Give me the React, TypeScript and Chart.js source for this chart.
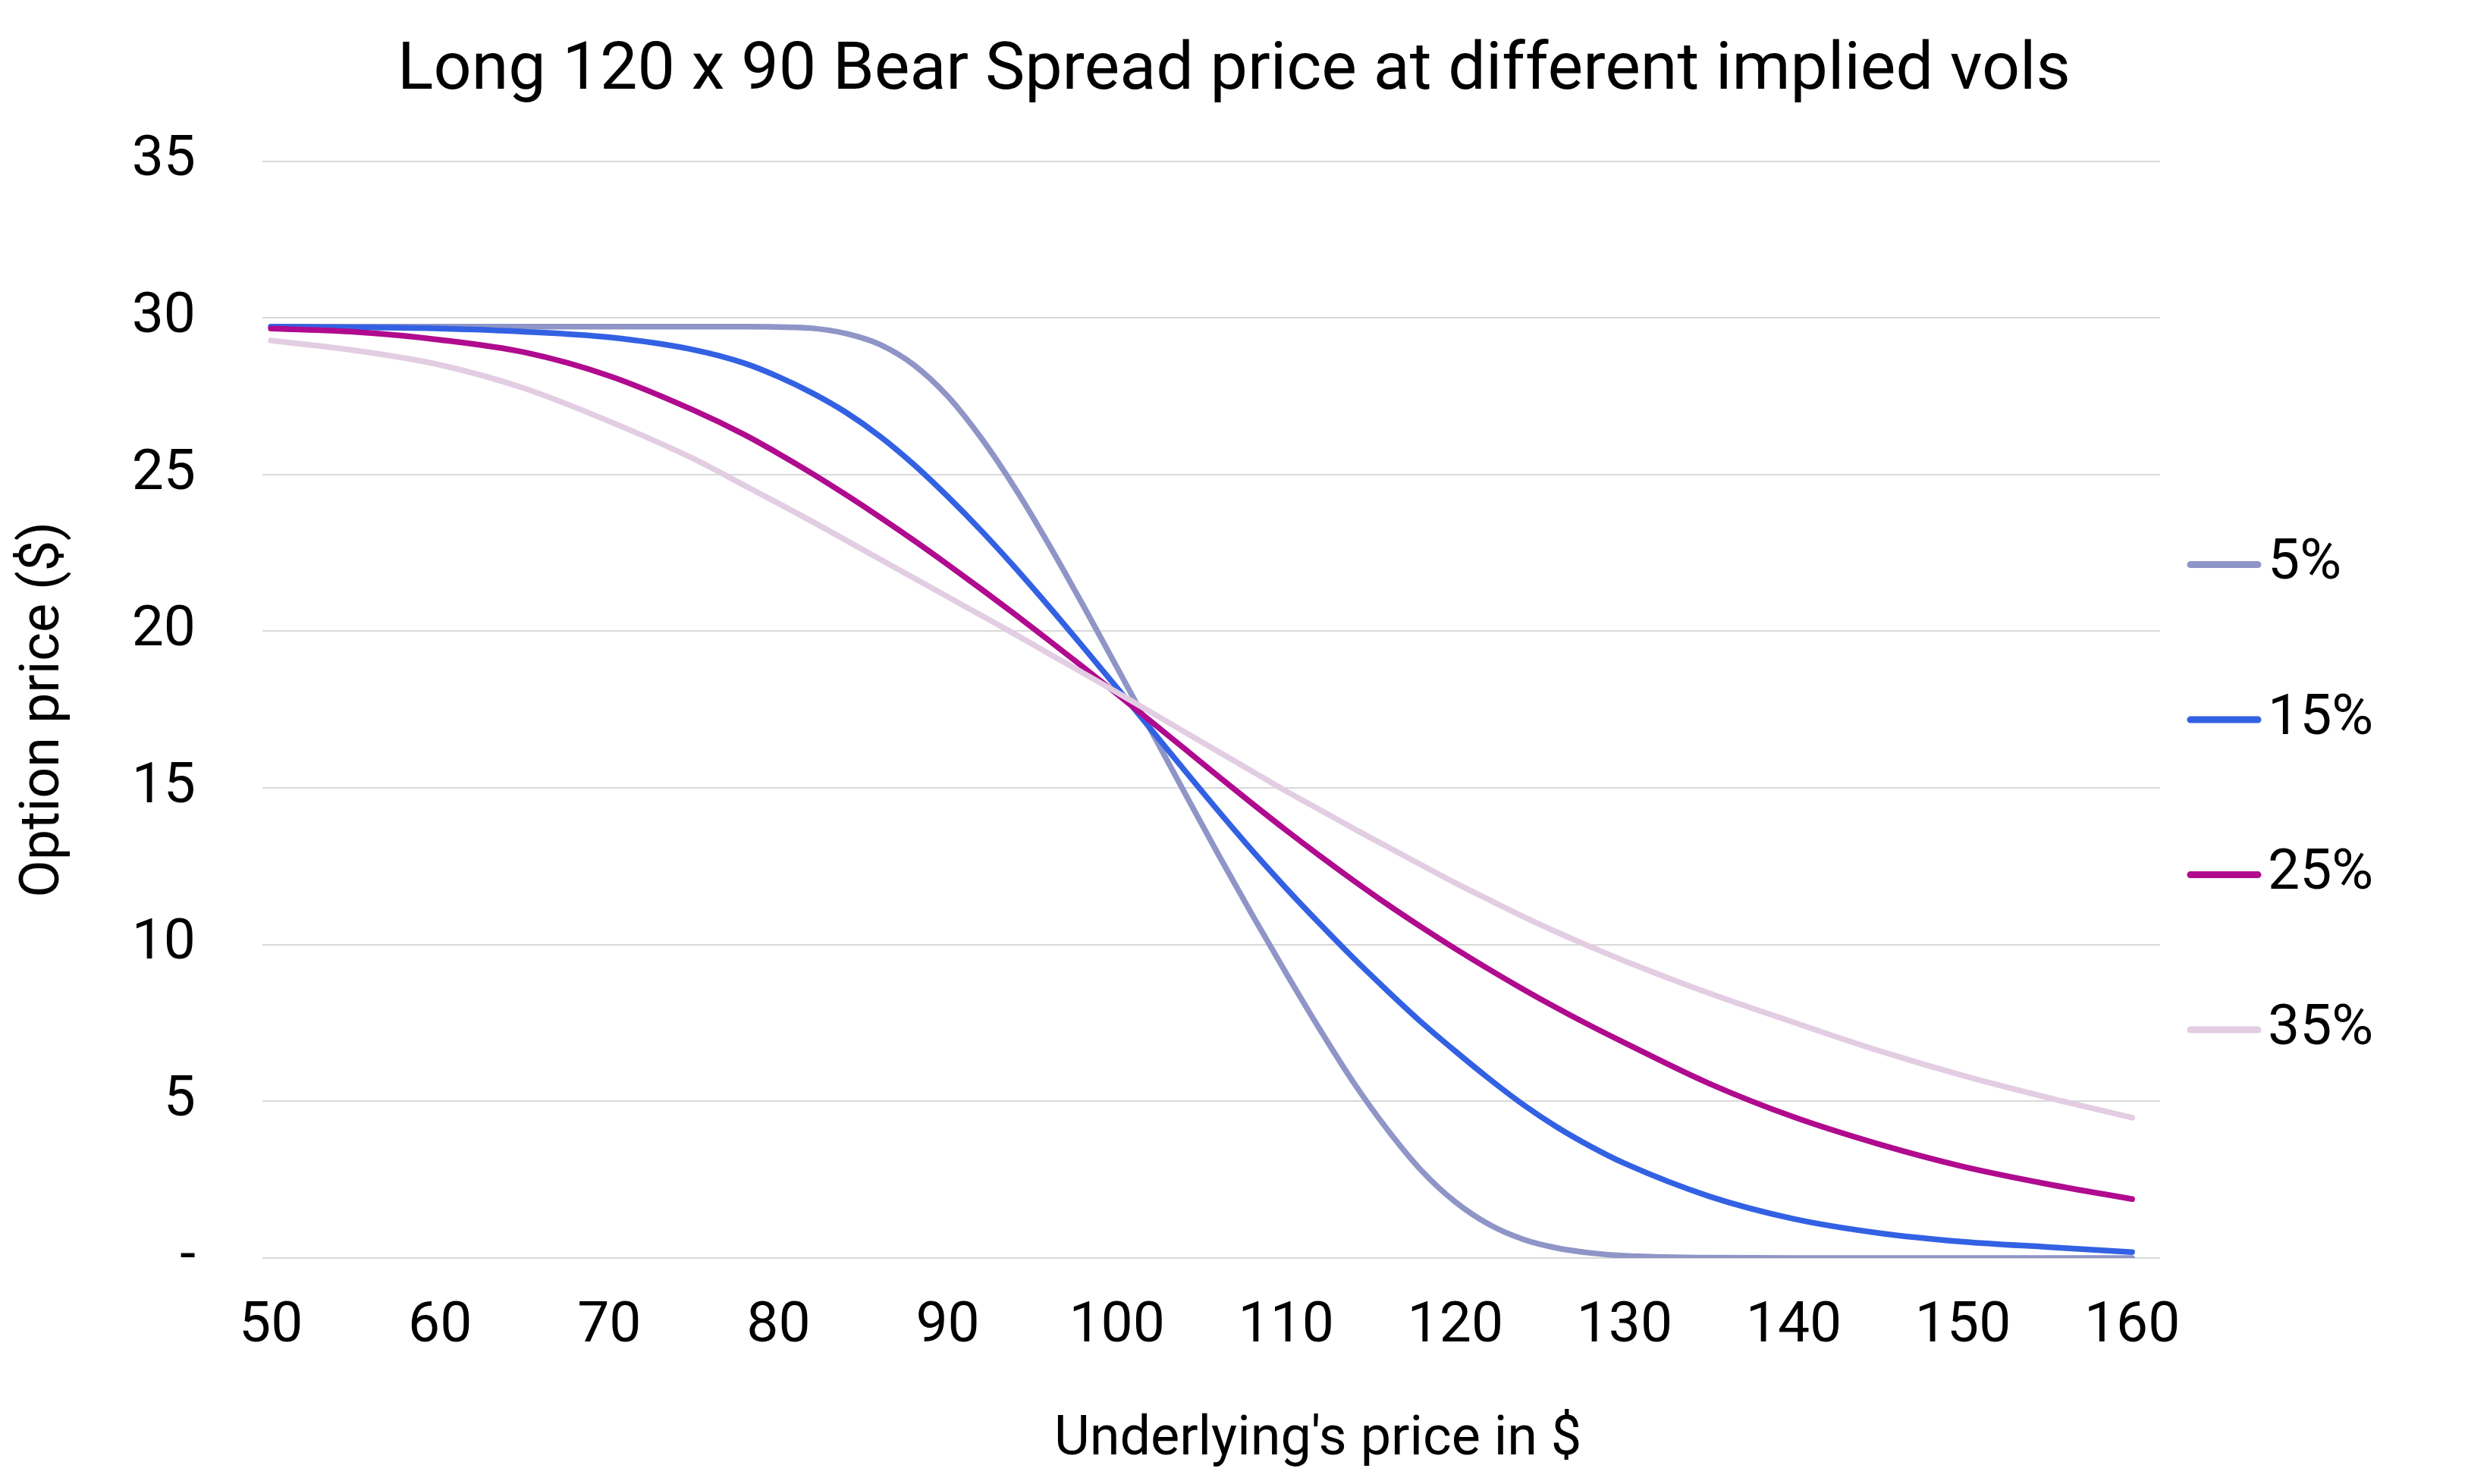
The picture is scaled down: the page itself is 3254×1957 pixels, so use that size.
import React, { useEffect, useRef } from 'react';
import Chart from 'chart.js/auto';

// underlying price points (x) and the spread value for each implied vol
const underlyingPrices = [
  50, 55, 60, 65, 70, 75, 78, 80, 82, 84, 86, 88, 90, 92, 94, 96, 98, 100, 102, 104, 106, 108, 110,
  112, 114, 116, 118, 120, 122, 124, 126, 128, 130, 135, 140, 145, 150, 155, 160,
];

const vol5 = [
  29.72, 29.72, 29.72, 29.72, 29.72, 29.72, 29.72, 29.71, 29.67, 29.5, 29.15, 28.5, 27.5, 26.15, 24.55,
  22.75, 20.83, 18.85, 16.85, 14.85, 12.87, 10.95, 9.09, 7.29, 5.59, 4.09, 2.79, 1.79, 1.07, 0.6, 0.32,
  0.16, 0.07, 0.01, 0, 0, 0, 0, 0,
];

const vol15 = [
  29.72, 29.7, 29.66, 29.56, 29.38, 28.98, 28.55, 28.12, 27.6, 26.98, 26.22, 25.32, 24.3, 23.2, 22.02,
  20.78, 19.5, 18.2, 16.88, 15.56, 14.26, 13.0, 11.8, 10.66, 9.56, 8.52, 7.52, 6.6, 5.72, 4.9, 4.18,
  3.56, 3.02, 1.97, 1.25, 0.8, 0.52, 0.35, 0.19,
];

const vol25 = [
  29.66, 29.55, 29.3, 28.9, 28.15, 27.05, 26.27, 25.67, 25.03, 24.35, 23.64, 22.9, 22.13, 21.34, 20.53,
  19.7, 18.86, 18.0, 17.13, 16.25, 15.37, 14.5, 13.65, 12.83, 12.04, 11.28, 10.56, 9.87, 9.21, 8.58,
  7.98, 7.41, 6.87, 5.57, 4.5, 3.64, 2.92, 2.36, 1.88,
];

const vol35 = [
  29.28, 28.96, 28.5, 27.75, 26.7, 25.5, 24.65, 24.08, 23.5, 22.9, 22.3, 21.7, 21.1, 20.5, 19.9,
  19.28, 18.67, 18.05, 17.42, 16.79, 16.16, 15.53, 14.9, 14.3, 13.7, 13.12, 12.54, 11.97, 11.43,
  10.9, 10.4, 9.93, 9.48, 8.45, 7.52, 6.62, 5.82, 5.12, 4.48,
];

const seriesLabels = ['5%', '15%', '25%', '35%'];
const seriesColors = ['#8f95c6', '#3361e3', '#b00a8f', '#e2cde2'];
const xTickValues = [50, 60, 70, 80, 90, 100, 110, 120, 130, 140, 150, 160];

const chartTitle = 'Long 120 x 90 Bear Spread price at different implied vols';
const xTitle = "Underlying's price in $";
const yTitle = 'Option price ($)';

const FONT = 'Roboto';

// legend on the right + x title centred under plot and legend (like the sheet export)
const sideLegend = {
  id: 'sideLegend',
  afterDraw(chart: any) {
    const { ctx, chartArea } = chart;
    ctx.save();
    ctx.font = `75px ${FONT}`;
    ctx.textBaseline = 'middle';
    ctx.textAlign = 'left';
    const lineStart = chartArea.right + 40;
    const lineEnd = chartArea.right + 129;
    const textX = chartArea.right + 142;
    let rightMost = textX;
    chart.data.datasets.forEach((ds: any, i: number) => {
      const y = chartArea.top + 532 + i * 204.5;
      ctx.strokeStyle = ds.borderColor;
      ctx.lineWidth = 9;
      ctx.lineCap = 'round';
      ctx.beginPath();
      ctx.moveTo(lineStart, y);
      ctx.lineTo(lineEnd, y);
      ctx.stroke();
      ctx.fillStyle = '#000';
      ctx.fillText(ds.label, textX, y);
      rightMost = Math.max(rightMost, textX + ctx.measureText(ds.label).width);
    });

    ctx.font = `72px ${FONT}`;
    ctx.textAlign = 'center';
    ctx.fillStyle = '#000';
    ctx.fillText(xTitle, (chartArea.left + rightMost) / 2, chartArea.bottom + 241);
    ctx.restore();
  },
};

const App: React.FC = () => {
  const chartRef = useRef<HTMLCanvasElement>(null);

  useEffect(() => {
    document.body.style.margin = '0';
    const ctx = chartRef.current?.getContext('2d');
    if (!ctx) return;

    const allSeries = [vol5, vol15, vol25, vol35];

    const myChart = new Chart(ctx, {
      type: 'line',
      data: {
        datasets: allSeries.map((values, i) => ({
          label: seriesLabels[i],
          data: values.map((v, j) => ({ x: underlyingPrices[j], y: v })),
          borderColor: seriesColors[i],
          backgroundColor: seriesColors[i],
          borderWidth: 7.5,
          borderCapStyle: 'round' as const,
          borderJoinStyle: 'round' as const,
          pointRadius: 0,
          cubicInterpolationMode: 'monotone' as const,
          fill: false,
          order: 4 - i, // later series drawn on top
        })),
      },
      options: {
        animation: false,
        responsive: true,
        maintainAspectRatio: false,
        layout: { padding: 0 },
        plugins: {
          legend: { display: false },
          tooltip: { enabled: false },
          title: {
            display: true,
            text: chartTitle,
            color: '#000',
            font: { family: FONT, size: 88, weight: 'normal' },
            padding: { top: 42, bottom: 65 },
          },
        },
        scales: {
          x: {
            type: 'linear',
            min: 49.5,
            max: 161.65,
            afterBuildTicks: (axis: any) => {
              axis.ticks = xTickValues.map((v) => ({ value: v }));
            },
            afterFit: (scale: any) => {
              scale.height = 298; // room for tick labels and the axis title
            },
            grid: { display: false, drawTicks: false },
            border: { display: false },
            ticks: {
              color: '#000',
              font: { family: FONT, size: 75 },
              padding: 46,
              maxRotation: 0,
              autoSkip: false,
            },
          },
          y: {
            min: 0,
            max: 35,
            afterFit: (scale: any) => {
              scale.width = 346;
            },
            grid: { color: '#d9d9d9', lineWidth: 2, drawTicks: false },
            border: { display: false },
            ticks: {
              stepSize: 5,
              color: '#000',
              font: { family: FONT, size: 75 },
              padding: 88,
              callback: (v: any) => (v === 0 ? '-' : String(v)),
            },
            title: {
              display: true,
              text: yTitle,
              color: '#000',
              font: { family: FONT, size: 72 },
              padding: { top: 16, bottom: 0 },
            },
          },
          // empty right-hand axis that only keeps space free for the legend
          legendSpace: {
            type: 'linear',
            position: 'right',
            grid: { display: false, drawTicks: false },
            border: { display: false },
            ticks: { display: false },
            afterFit: (scale: any) => {
              scale.width = 406;
            },
          },
        },
      },
      plugins: [sideLegend],
    });

    return () => {
      myChart.destroy();
    };
  }, []);

  return (
    <div style={{ width: '3254px', height: '1957px', background: '#fff' }}>
      <canvas ref={chartRef}></canvas>
    </div>
  );
};

export default App;
